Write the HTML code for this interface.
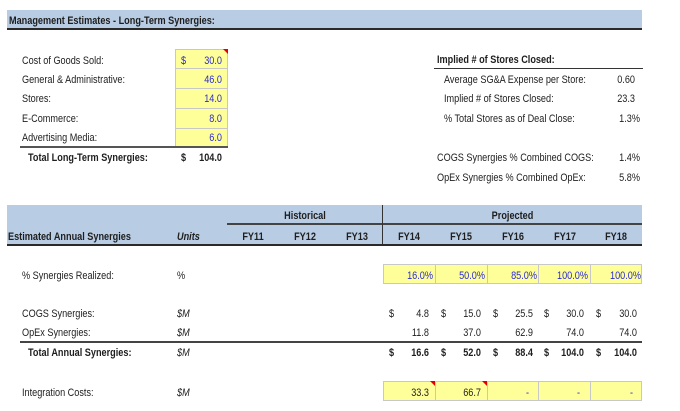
<!DOCTYPE html>
<html><head><meta charset="utf-8">
<style>
html,body{margin:0;padding:0;background:#fff;}
body{width:680px;height:411px;position:relative;overflow:hidden;font-family:"Liberation Sans",Arial,sans-serif;font-size:11px;color:#1e1e1e;}
.a{position:absolute;height:14px;line-height:14px;white-space:nowrap;transform:scaleX(0.83);transform-origin:left center;}
.r{text-align:right;transform-origin:right center;}
.c{text-align:center;transform-origin:center center;}
.b{font-weight:bold;}
.i{font-style:italic;}
.blue{color:#2b2bd6;}
.band{position:absolute;background:#b8cce4;}
.ln{position:absolute;background:#333;}
.y{position:absolute;background:#ffff99;border:1px solid #c8c8c8;box-sizing:border-box;}
.tri{position:absolute;width:0;height:0;border-top:5px solid #e00000;border-left:5px solid transparent;}
</style></head><body>

<!-- Top banner -->
<div class="band" style="left:7px;top:10px;width:635px;height:19px;"></div>
<div class="ln" style="left:7px;top:28px;width:635px;height:2px;background:#2a2a2a;"></div>
<div class="a b" style="left:9px;top:14px;">Management Estimates - Long-Term Synergies:</div>

<!-- Left inputs -->
<div class="y" style="left:175px;top:49px;width:53px;height:20px;"></div>
<div class="y" style="left:175px;top:68px;width:53px;height:21px;"></div>
<div class="y" style="left:175px;top:88px;width:53px;height:21px;"></div>
<div class="y" style="left:175px;top:108px;width:53px;height:21px;"></div>
<div class="y" style="left:175px;top:128px;width:53px;height:20px;"></div>
<div class="tri" style="left:223px;top:49px;"></div>

<div class="a" style="left:22px;top:54px;">Cost of Goods Sold:</div>
<div class="a" style="left:22px;top:73px;">General &amp; Administrative:</div>
<div class="a" style="left:22px;top:92px;">Stores:</div>
<div class="a" style="left:22px;top:112px;">E-Commerce:</div>
<div class="a" style="left:22px;top:131px;">Advertising Media:</div>

<div class="a blue" style="left:181px;top:54px;">$</div>
<div class="a r blue" style="left:180px;width:42px;top:54px;">30.0</div>
<div class="a r blue" style="left:180px;width:42px;top:73px;">46.0</div>
<div class="a r blue" style="left:180px;width:42px;top:92px;">14.0</div>
<div class="a r blue" style="left:180px;width:42px;top:112px;">8.0</div>
<div class="a r blue" style="left:180px;width:42px;top:131px;">6.0</div>

<div class="ln" style="left:20px;top:146px;width:208px;height:2px;background:#555;"></div>
<div class="a b" style="left:28px;top:151px;">Total Long-Term Synergies:</div>
<div class="a b" style="left:181px;top:151px;">$</div>
<div class="a b r" style="left:180px;width:42px;top:151px;">104.0</div>

<!-- Right block -->
<div class="a b" style="left:437px;top:53px;">Implied # of Stores Closed:</div>
<div class="ln" style="left:434px;top:68px;width:209px;height:1px;"></div>
<div class="a" style="left:444px;top:73px;">Average SG&amp;A Expense per Store:</div>
<div class="a" style="left:444px;top:92px;">Implied # of Stores Closed:</div>
<div class="a" style="left:444px;top:112px;">% Total Stores as of Deal Close:</div>
<div class="a r" style="left:580px;width:55px;top:73px;">0.60</div>
<div class="a r" style="left:580px;width:55px;top:92px;">23.3</div>
<div class="a r" style="left:580px;width:60px;top:112px;">1.3%</div>
<div class="a" style="left:437px;top:151px;">COGS Synergies % Combined COGS:</div>
<div class="a" style="left:437px;top:171px;">OpEx Synergies % Combined OpEx:</div>
<div class="a r" style="left:580px;width:60px;top:151px;">1.4%</div>
<div class="a r" style="left:580px;width:60px;top:171px;">5.8%</div>

<!-- Bottom header band -->
<div class="band" style="left:7px;top:205px;width:635px;height:40px;"></div>
<div class="ln" style="left:227px;top:223px;width:415px;height:2px;background:#444;"></div>
<div class="ln" style="left:382px;top:205px;width:1px;height:40px;background:#333;"></div>
<div class="ln" style="left:7px;top:244px;width:635px;height:2px;background:#2a2a2a;"></div>
<div class="a b c" style="left:227px;width:156px;top:209px;">Historical</div>
<div class="a b c" style="left:383px;width:259px;top:209px;">Projected</div>
<div class="a b" style="left:8px;top:230px;">Estimated Annual Synergies</div>
<div class="a b i" style="left:177px;top:230px;">Units</div>
<div class="a b c" style="left:227px;width:52px;top:230px;">FY11</div>
<div class="a b c" style="left:279px;width:52px;top:230px;">FY12</div>
<div class="a b c" style="left:331px;width:52px;top:230px;">FY13</div>
<div class="a b c" style="left:383px;width:52px;top:230px;">FY14</div>
<div class="a b c" style="left:435px;width:52px;top:230px;">FY15</div>
<div class="a b c" style="left:487px;width:52px;top:230px;">FY16</div>
<div class="a b c" style="left:539px;width:52px;top:230px;">FY17</div>
<div class="a b c" style="left:590px;width:52px;top:230px;">FY18</div>

<!-- % Synergies Realized -->
<div class="a" style="left:22px;top:269px;">% Synergies Realized:</div>
<div class="a" style="left:177px;top:269px;">%</div>
<div class="y" style="left:383px;top:264px;width:53px;height:20px;"></div>
<div class="y" style="left:435px;top:264px;width:53px;height:20px;"></div>
<div class="y" style="left:487px;top:264px;width:52px;height:20px;"></div>
<div class="y" style="left:538px;top:264px;width:53px;height:20px;"></div>
<div class="y" style="left:590px;top:264px;width:52px;height:20px;"></div>
<div class="a r blue" style="left:383px;width:50px;top:269px;">16.0%</div>
<div class="a r blue" style="left:435px;width:50px;top:269px;">50.0%</div>
<div class="a r blue" style="left:487px;width:50px;top:269px;">85.0%</div>
<div class="a r blue" style="left:538px;width:50px;top:269px;">100.0%</div>
<div class="a r blue" style="left:590px;width:51px;top:269px;">100.0%</div>

<!-- COGS / OpEx -->
<div class="a" style="left:22px;top:307px;">COGS Synergies:</div>
<div class="a i" style="left:177px;top:307px;">$M</div>
<div class="a" style="left:22px;top:326px;">OpEx Synergies:</div>
<div class="a i" style="left:177px;top:326px;">$M</div>

<div class="a" style="left:389px;top:307px;">$</div>
<div class="a" style="left:441px;top:307px;">$</div>
<div class="a" style="left:493px;top:307px;">$</div>
<div class="a" style="left:544px;top:307px;">$</div>
<div class="a" style="left:596px;top:307px;">$</div>
<div class="a r" style="left:383px;width:46px;top:307px;">4.8</div>
<div class="a r" style="left:435px;width:46px;top:307px;">15.0</div>
<div class="a r" style="left:487px;width:46px;top:307px;">25.5</div>
<div class="a r" style="left:538px;width:46px;top:307px;">30.0</div>
<div class="a r" style="left:590px;width:47px;top:307px;">30.0</div>
<div class="a r" style="left:383px;width:46px;top:326px;">11.8</div>
<div class="a r" style="left:435px;width:46px;top:326px;">37.0</div>
<div class="a r" style="left:487px;width:46px;top:326px;">62.9</div>
<div class="a r" style="left:538px;width:46px;top:326px;">74.0</div>
<div class="a r" style="left:590px;width:47px;top:326px;">74.0</div>

<div class="ln" style="left:20px;top:341px;width:622px;height:2px;background:#444;"></div>

<div class="a b" style="left:28px;top:346px;">Total Annual Synergies:</div>
<div class="a i" style="left:177px;top:346px;">$M</div>
<div class="a b" style="left:389px;top:346px;">$</div>
<div class="a b" style="left:441px;top:346px;">$</div>
<div class="a b" style="left:493px;top:346px;">$</div>
<div class="a b" style="left:544px;top:346px;">$</div>
<div class="a b" style="left:596px;top:346px;">$</div>
<div class="a b r" style="left:383px;width:46px;top:346px;">16.6</div>
<div class="a b r" style="left:435px;width:46px;top:346px;">52.0</div>
<div class="a b r" style="left:487px;width:46px;top:346px;">88.4</div>
<div class="a b r" style="left:538px;width:46px;top:346px;">104.0</div>
<div class="a b r" style="left:590px;width:47px;top:346px;">104.0</div>

<!-- Integration costs -->
<div class="a" style="left:22px;top:386px;">Integration Costs:</div>
<div class="a i" style="left:177px;top:386px;">$M</div>
<div class="y" style="left:383px;top:381px;width:53px;height:20px;"></div>
<div class="y" style="left:435px;top:381px;width:53px;height:20px;"></div>
<div class="y" style="left:487px;top:381px;width:52px;height:20px;"></div>
<div class="y" style="left:538px;top:381px;width:53px;height:20px;"></div>
<div class="y" style="left:590px;top:381px;width:52px;height:20px;"></div>
<div class="tri" style="left:430px;top:381px;"></div>
<div class="tri" style="left:482px;top:381px;"></div>
<div class="a r" style="left:383px;width:46px;top:386px;">33.3</div>
<div class="a r" style="left:435px;width:46px;top:386px;">66.7</div>
<div class="a r blue" style="left:487px;width:42px;top:386px;">-</div>
<div class="a r blue" style="left:538px;width:42px;top:386px;">-</div>
<div class="a r blue" style="left:590px;width:43px;top:386px;">-</div>

</body></html>
